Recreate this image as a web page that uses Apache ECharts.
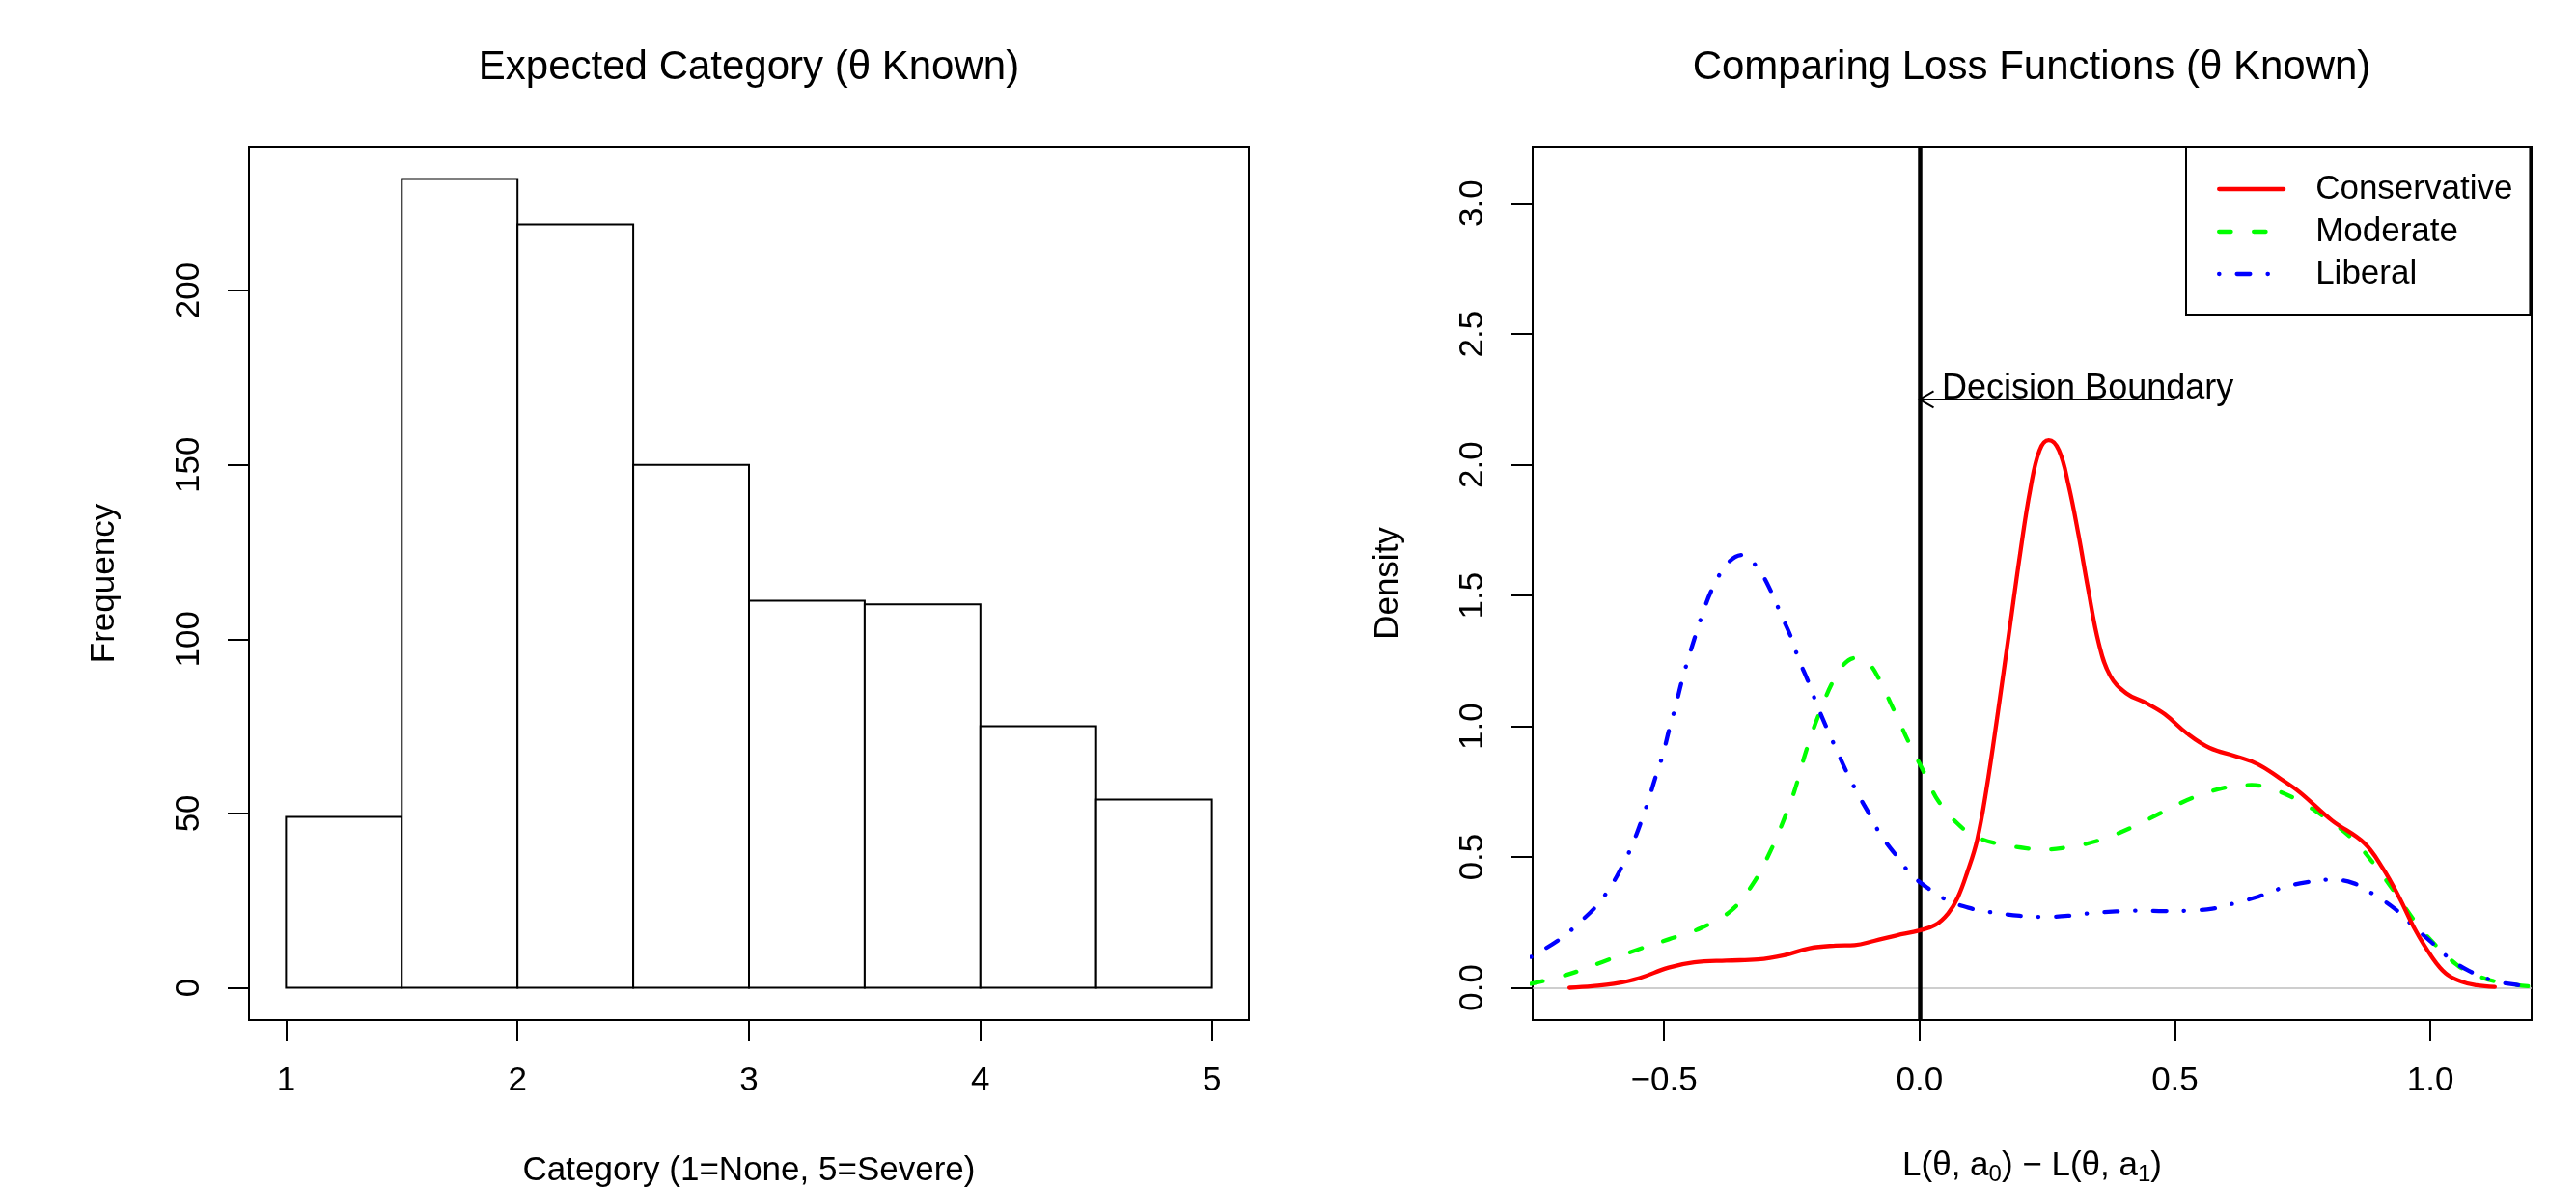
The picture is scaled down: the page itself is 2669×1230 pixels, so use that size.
<!DOCTYPE html>
<html><head><meta charset="utf-8">
<script src="https://cdn.jsdelivr.net/npm/echarts@6/dist/echarts.min.js"></script>
<style>html,body{margin:0;padding:0;background:#fff}#c{width:2669px;height:1230px}</style>
</head><body><div id="c"></div>
<script>
// ---------- data ----------
const histBreaks = [1, 1.5, 2, 2.5, 3, 3.5, 4, 4.5, 5];
const histCounts = [49, 232, 219, 150, 111, 110, 75, 54];
const histXTicks = [1, 2, 3, 4, 5];
const histYTicks = [0, 50, 100, 150, 200];

const densXTicks = [-0.5, 0, 0.5, 1.0];
const densYTicks = [0, 0.5, 1.0, 1.5, 2.0, 2.5, 3.0];

const conservativeX = [-0.685,-0.64,-0.598,-0.548,-0.491,-0.441,-0.378,-0.316,-0.265,-0.215,-0.164,-0.127,-0.089,-0.045,0.0,0.031,0.056,0.075,0.094,0.113,0.131,0.153,0.176,0.198,0.217,0.235,0.253,0.273,0.292,0.311,0.330,0.351,0.373,0.405,0.443,0.480,0.524,0.568,0.618,0.662,0.706,0.744,0.807,0.870,0.907,0.939,0.970,1.002,1.03,1.06,1.09,1.126];
const conservativeY = [0.0,0.006,0.015,0.037,0.077,0.097,0.104,0.108,0.124,0.151,0.161,0.163,0.179,0.200,0.219,0.240,0.284,0.345,0.444,0.566,0.757,1.046,1.366,1.673,1.907,2.055,2.094,2.055,1.920,1.735,1.526,1.317,1.194,1.126,1.089,1.046,0.972,0.917,0.886,0.855,0.800,0.748,0.640,0.554,0.456,0.345,0.222,0.120,0.055,0.024,0.010,0.003];

const moderateX = [-0.76,-0.686,-0.620,-0.554,-0.491,-0.428,-0.368,-0.325,-0.290,-0.266,-0.245,-0.224,-0.205,-0.189,-0.173,-0.151,-0.126,-0.101,-0.079,-0.058,-0.039,-0.020,0.0,0.012,0.037,0.081,0.116,0.154,0.21,0.245,0.279,0.345,0.411,0.471,0.534,0.600,0.650,0.681,0.732,0.788,0.845,0.889,0.933,0.970,1.008,1.052,1.075,1.125,1.2];
const moderateY = [0.015,0.052,0.099,0.144,0.185,0.228,0.296,0.400,0.529,0.640,0.750,0.892,1.003,1.083,1.157,1.230,1.261,1.243,1.181,1.095,1.015,0.935,0.858,0.812,0.714,0.616,0.573,0.551,0.533,0.529,0.534,0.560,0.609,0.667,0.726,0.766,0.775,0.766,0.726,0.659,0.573,0.475,0.357,0.253,0.167,0.087,0.061,0.025,0.004];

const liberalX = [-0.76,-0.702,-0.667,-0.632,-0.604,-0.581,-0.563,-0.544,-0.529,-0.515,-0.503,-0.489,-0.478,-0.465,-0.453,-0.438,-0.425,-0.406,-0.375,-0.346,-0.315,-0.290,-0.271,-0.252,-0.236,-0.218,-0.202,-0.183,-0.164,-0.144,-0.120,-0.099,-0.076,-0.048,-0.016,0.018,0.056,0.103,0.135,0.196,0.245,0.291,0.339,0.385,0.433,0.479,0.527,0.573,0.618,0.664,0.710,0.756,0.804,0.849,0.892,0.929,0.964,0.999,1.038,1.075,1.12,1.164,1.2];
const liberalY = [0.118,0.188,0.247,0.313,0.388,0.468,0.542,0.639,0.726,0.815,0.886,0.994,1.071,1.173,1.255,1.350,1.427,1.523,1.624,1.655,1.600,1.514,1.427,1.344,1.255,1.172,1.089,1.000,0.917,0.831,0.739,0.667,0.585,0.512,0.433,0.379,0.333,0.302,0.290,0.275,0.271,0.275,0.286,0.292,0.295,0.293,0.295,0.302,0.324,0.349,0.382,0.403,0.413,0.400,0.353,0.304,0.240,0.179,0.111,0.065,0.029,0.012,0.004];

const arrowFrom = [0.5, 2.25];
const arrowTo = [0, 2.25];
const annotation = {x: 0.044, y: 2.29, text: 'Decision Boundary'};

const titles = ['Expected Category (\u03b8 Known)', 'Comparing Loss Functions (\u03b8 Known)'];

// ---------- chart ----------
const FONT = '"Liberation Sans", Arial, Helvetica, sans-serif';
const FS = 35;
const zip = (xs, ys) => xs.map((x, i) => [x, ys[i]]);
const histData = histCounts.map((c, i) => [histBreaks[i], histBreaks[i + 1], c]);

function xAxisCfg(gi, min, max, ticks, fmt, name, extra) {
  return Object.assign({
    gridIndex: gi, type: 'value', min: min, max: max,
    axisLine: {show: false, onZero: false}, splitLine: {show: false},
    axisTick: {show: true, inside: false, length: 22, lineStyle: {color: '#000', width: 2}, customValues: ticks},
    axisLabel: {customValues: ticks, formatter: fmt, margin: 46, fontSize: FS, color: '#000', fontFamily: FONT},
    name: name, nameLocation: 'middle', nameGap: 139,
    nameTextStyle: {fontSize: FS, color: '#000', fontFamily: FONT}
  }, extra || {});
}
function yAxisCfg(gi, min, max, ticks, fmt, name) {
  return {
    gridIndex: gi, type: 'value', min: min, max: max,
    axisLine: {show: false, onZero: false}, splitLine: {show: false},
    axisTick: {show: true, inside: false, length: 22, lineStyle: {color: '#000', width: 2}, customValues: ticks},
    axisLabel: {customValues: ticks, formatter: fmt, rotate: 90, margin: 44, fontSize: FS, color: '#000', fontFamily: FONT},
    name: name, nameLocation: 'middle', nameGap: 132, nameRotate: 90,
    nameTextStyle: {fontSize: FS, color: '#000', fontFamily: FONT}
  };
}
const fmt1 = v => (v < 0 ? '\u2212' : '') + Math.abs(v).toFixed(1);

const option = {
  backgroundColor: '#fff',
  animation: false,
  textStyle: {fontFamily: FONT},
  title: [
    {text: titles[0], left: 776, top: 49, textAlign: 'center', padding: 0,
     textStyle: {fontSize: 42, fontWeight: 'normal', color: '#000', fontFamily: FONT}},
    {text: titles[1], left: 2105, top: 49, textAlign: 'center', padding: 0,
     textStyle: {fontSize: 42, fontWeight: 'normal', color: '#000', fontFamily: FONT}}
  ],
  grid: [
    {left: 258, top: 152, width: 1036, height: 905, show: true, borderColor: '#000', borderWidth: 2, backgroundColor: 'transparent', containLabel: false, outerBoundsMode: 'none'},
    {left: 1588, top: 152, width: 1035, height: 905, show: true, borderColor: '#000', borderWidth: 2, backgroundColor: 'transparent', containLabel: false, outerBoundsMode: 'none'}
  ],
  xAxis: [
    xAxisCfg(0, 0.84, 5.16, histXTicks, v => String(v), 'Category (1=None, 5=Severe)'),
    xAxisCfg(1, -0.757, 1.198, densXTicks, fmt1, '{n|L(\u03b8, a}{s|0}{n|) \u2212 L(\u03b8, a}{s|1}{n|)}', {
      nameGap: 134,
      nameTextStyle: {fontSize: FS, color: '#000', fontFamily: FONT,
        rich: {n: {fontSize: FS, color: '#000', fontFamily: FONT},
               s: {fontSize: 24, color: '#000', fontFamily: FONT, verticalAlign: 'bottom', padding: [0, 0, -3, 0]}}}
    })
  ],
  yAxis: [
    yAxisCfg(0, -9.28, 241.28, histYTicks, v => String(v), 'Frequency'),
    yAxisCfg(1, -0.1237, 3.2167, densYTicks, v => v.toFixed(1), 'Density')
  ],
  legend: {
    orient: 'vertical', left: 2265, top: 152,
    padding: [22, 18, 20, 32], itemGap: 0, itemWidth: 67, itemHeight: 14,
    borderColor: '#000', borderWidth: 2, backgroundColor: '#fff',
    itemStyle: {opacity: 0},
    lineStyle: {width: 4.3},
    textStyle: {fontSize: FS, color: '#000', fontFamily: FONT, lineHeight: 44, padding: [0, 0, 0, 28]},
    data: ['Conservative', 'Moderate', 'Liberal']
  },
  series: [
    {
      type: 'custom', name: 'hist', xAxisIndex: 0, yAxisIndex: 0,
      encode: {x: [0, 1], y: 2},
      data: histData,
      renderItem: function (params, api) {
        const p0 = api.coord([api.value(0), api.value(2)]);
        const p1 = api.coord([api.value(1), 0]);
        return {type: 'rect', shape: {x: p0[0], y: p0[1], width: p1[0] - p0[0], height: p1[1] - p0[1]},
                style: {fill: '#fff', stroke: '#000', lineWidth: 2}};
      }
    },
    {
      type: 'custom', name: 'annot', xAxisIndex: 1, yAxisIndex: 1, z: 5,
      encode: {x: [0, 2], y: [1, 3]},
      data: [[arrowFrom[0], arrowFrom[1], arrowTo[0], arrowTo[1]]],
      renderItem: function (params, api) {
        const a = api.coord([api.value(0), api.value(1)]);
        const b = api.coord([api.value(2), api.value(3)]);
        const t = api.coord([annotation.x, annotation.y]);
        const ang = Math.atan2(a[1] - b[1], a[0] - b[0]);
        const L = 17, h = Math.PI / 6;
        const h1 = [b[0] + L * Math.cos(ang + h), b[1] + L * Math.sin(ang + h)];
        const h2 = [b[0] + L * Math.cos(ang - h), b[1] + L * Math.sin(ang - h)];
        return {type: 'group', children: [
          {type: 'line', shape: {x1: a[0], y1: a[1], x2: b[0], y2: b[1]}, style: {stroke: '#000', lineWidth: 2}},
          {type: 'polyline', shape: {points: [h1, b, h2]}, style: {stroke: '#000', lineWidth: 2, fill: null}},
          {type: 'text', x: t[0], y: t[1], style: {text: annotation.text, fontSize: 36, fontFamily: FONT, fill: '#000', align: 'left', verticalAlign: 'middle'}}
        ]};
      },
      markLine: {
        silent: true, symbol: 'none', label: {show: false}, z: 1,
        data: [
          {yAxis: 0, lineStyle: {color: '#bebebe', width: 1.5, type: 'solid'}},
          {xAxis: 0, lineStyle: {color: '#000', width: 4.5, type: 'solid'}}
        ]
      }
    },
    {
      type: 'line', name: 'Conservative', xAxisIndex: 1, yAxisIndex: 1, z: 4,
      data: zip(conservativeX, conservativeY), symbol: 'none', smooth: 0.4,
      itemStyle: {color: '#ff0000'},
      lineStyle: {color: '#ff0000', width: 4.3, cap: 'round', join: 'round'}
    },
    {
      type: 'line', name: 'Moderate', xAxisIndex: 1, yAxisIndex: 1, z: 3,
      data: zip(moderateX, moderateY), symbol: 'none', smooth: 0.4,
      itemStyle: {color: '#00ff00'},
      lineStyle: {color: '#00ff00', width: 4.3, type: [12.4, 23.6], cap: 'round', join: 'round'}
    },
    {
      type: 'line', name: 'Liberal', xAxisIndex: 1, yAxisIndex: 1, z: 3,
      data: zip(liberalX, liberalY), symbol: 'none', smooth: 0.4,
      itemStyle: {color: '#0000ff'},
      lineStyle: {color: '#0000ff', width: 4.3, type: [0.3, 18.2, 13.7, 18.2], cap: 'round', join: 'round'}
    }
  ]
};
const chart = echarts.init(document.getElementById('c'), null, {renderer: 'canvas'});
chart.setOption(option);
</script></body></html>
